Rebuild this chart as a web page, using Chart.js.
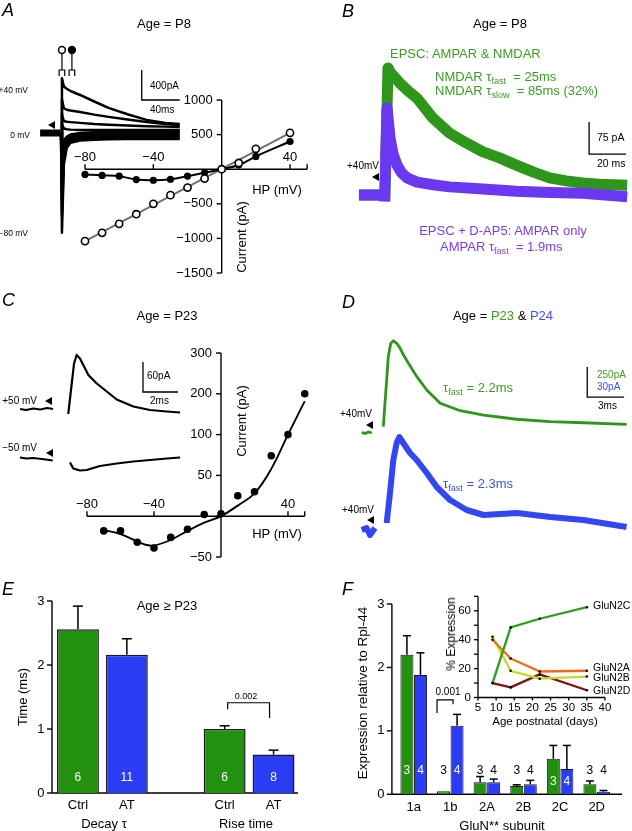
<!DOCTYPE html>
<html>
<head>
<meta charset="utf-8">
<title>AMPAR / NMDAR currents</title>
<style>
    body { margin: 0; background: #fff; }
    #fig { position: relative; width: 632px; height: 831px; overflow: hidden;
           font-family: "Liberation Sans", Arial, Helvetica, sans-serif; }
    canvas.layer { position: absolute; left: 0; top: 0; }
    .t { position: absolute; white-space: nowrap; line-height: 1; font-size: 13px; color: #000; }
    .c { transform: translate(-50%, -50%); }
    .l { transform: translate(0, -50%); }
    .r { transform: translate(-100%, -50%); }
    .v { transform: translate(-50%, -50%) rotate(-90deg); }
    .p { font-style: italic; font-size: 18px; }
    .g { color: #3c9c24; }
    .b { color: #3d50ea; }
    .u { color: #7c3fe3; }
    sub { font-size: 0.7em; vertical-align: -0.35em; line-height: 0; }
    .tri { position: absolute; width: 0; height: 0; border-top: 4px solid transparent;
           border-bottom: 4px solid transparent; border-right: 7px solid #000; }
</style>
</head>
<body>
<div id="fig">
    <canvas id="cATr" class="layer" width="632" height="831"></canvas>
    <canvas id="cAiv" class="layer" width="632" height="831"></canvas>
    <canvas id="cB" class="layer" width="632" height="831"></canvas>
    <canvas id="cCtr" class="layer" width="632" height="831"></canvas>
    <canvas id="cCiv" class="layer" width="632" height="831"></canvas>
    <canvas id="cD" class="layer" width="632" height="831"></canvas>
    <canvas id="cE" class="layer" width="632" height="831"></canvas>
    <canvas id="cF" class="layer" width="632" height="831"></canvas>
    <canvas id="cFin" class="layer" width="632" height="831"></canvas>

    <!-- A -->
    <div class="t l p" style="left:2px;top:10px">A</div>
    <div class="t c" style="left:164px;top:23px">Age = P8</div>
    <div class="t r" style="left:28px;top:90px;font-size:8.5px">+40 mV</div>
    <div class="t r" style="left:30px;top:135px;font-size:8.5px">0 mV</div>
    <div class="t r" style="left:28px;top:233px;font-size:8.5px">−80 mV</div>
    <div class="tri" style="left:48px;top:121px"></div>
    <div class="t l" style="left:150px;top:86px;font-size:10px">400pA</div>
    <div class="t l" style="left:150px;top:110px;font-size:10px">40ms</div>
    <div class="t c" style="left:277px;top:189px">HP (mV)</div>
    <div class="t v" style="left:241px;top:237px">Current (pA)</div>

    <!-- B -->
    <div class="t l p" style="left:342px;top:11px">B</div>
    <div class="t c" style="left:500px;top:23px">Age = P8</div>
    <div class="t l g" style="left:390px;top:53px">EPSC: AMPAR &amp; NMDAR</div>
    <div class="t l g" style="left:435px;top:76px">NMDAR τ<sub>fast</sub>&nbsp; = 25ms</div>
    <div class="t l g" style="left:435px;top:90px">NMDAR τ<sub>slow</sub>&nbsp; = 85ms (32%)</div>
    <div class="t l" style="left:597px;top:137px;font-size:10.5px">75 pA</div>
    <div class="t l" style="left:597px;top:163px;font-size:10.5px">20 ms</div>
    <div class="t l" style="left:347px;top:166px;font-size:10px">+40mV</div>
    <div class="tri" style="left:372px;top:173px"></div>
    <div class="t c u" style="left:503px;top:230px">EPSC + D-AP5: AMPAR only</div>
    <div class="t l u" style="left:440px;top:246px">AMPAR τ<sub>fast</sub>&nbsp; = 1.9ms</div>

    <!-- C -->
    <div class="t l p" style="left:2px;top:300px">C</div>
    <div class="t c" style="left:167px;top:315px">Age = P23</div>
    <div class="t r" style="left:37px;top:401px;font-size:10px">+50 mV</div>
    <div class="t r" style="left:37px;top:448px;font-size:10px">−50 mV</div>
    <div class="tri" style="left:45px;top:397px"></div>
    <div class="tri" style="left:46px;top:449px"></div>
    <div class="t l" style="left:147px;top:376px;font-size:10px">60pA</div>
    <div class="t l" style="left:150px;top:401px;font-size:10px">2ms</div>
    <div class="t c" style="left:277px;top:533px">HP (mV)</div>
    <div class="t v" style="left:241px;top:421px">Current (pA)</div>

    <!-- D -->
    <div class="t l p" style="left:342px;top:302px">D</div>
    <div class="t c" style="left:503px;top:315px">Age = <span class="g">P23</span> &amp; <span class="b">P24</span></div>
    <div class="t l" style="left:340px;top:414px;font-size:10px">+40mV</div>
    <div class="tri" style="left:366px;top:421px"></div>
    <div class="t l" style="left:342px;top:510px;font-size:10px">+40mV</div>
    <div class="tri" style="left:367px;top:516px"></div>
    <div class="t l g" style="left:443px;top:387px">τ<sub>fast</sub> = 2.2ms</div>
    <div class="t l b" style="left:443px;top:483px">τ<sub>fast</sub> = 2.3ms</div>
    <div class="t l g" style="left:597px;top:375px;font-size:10px">250pA</div>
    <div class="t l b" style="left:597px;top:387px;font-size:10px">30pA</div>
    <div class="t l" style="left:598px;top:406px;font-size:10px">3ms</div>

    <!-- E -->
    <div class="t l p" style="left:2px;top:589px">E</div>
    <div class="t c" style="left:167px;top:605px">Age ≥ P23</div>
    <div class="t v" style="left:22px;top:697px">Time (ms)</div>
    <div class="t c" style="left:246px;top:696px;font-size:9px">0.002</div>
    <div class="t c" style="left:104px;top:823px">Decay τ</div>
    <div class="t c" style="left:246px;top:823px">Rise time</div>

    <!-- F -->
    <div class="t l p" style="left:342px;top:589px">F</div>
    <div class="t v" style="left:363px;top:693px;font-size:13.5px">Expression relative to Rpl-44</div>
    <div class="t c" style="left:502px;top:825px">GluN** subunit</div>
    <div class="t c" style="left:448px;top:692px;font-size:10px">0.001</div>
    <div class="t v" style="left:451px;top:634px;font-size:12px">% Expression</div>
    <div class="t c" style="left:545px;top:722px;font-size:11.5px">Age postnatal (days)</div>
    <div class="t l" style="left:593px;top:605px;font-size:10.5px">GluN2C</div>
    <div class="t l" style="left:593px;top:667px;font-size:10.5px">GluN2A</div>
    <div class="t l" style="left:593px;top:677px;font-size:10.5px">GluN2B</div>
    <div class="t l" style="left:593px;top:690px;font-size:10.5px">GluN2D</div>
</div>

<script src="https://cdn.jsdelivr.net/npm/chart.js"></script>
<script>
    // ---------- A: I-V relation at P8 (HP in mV, current in pA) ----------
    const hpA = [-80, -70, -60, -50, -40, -30, -20, -10, 0, 10, 20, 40];
    const iFilledA = [-75, -90, -100, -150, -160, -145, -100, -50, 0, 60, 185, 400];
    const iOpenA = [-1040, -920, -790, -650, -500, -375, -265, -135, 0, 90, 295, 525];
    const hpFitOpenA = [-80, 40];
    const iFitOpenA = [-1040, 525];
    const xTicksA = [-80, -40, 0, 40, 50];
    const xLabelsA = [-80, -40, 40];
    const yTicksA = [-1500, -1000, -500, 0, 500, 1000];
    const yLabelsA = [-1500, -1000, -500, 500, 1000];

    // A: current traces (ms, pA)
    const tA = [0, 1, 3, 6, 10, 20, 35, 50, 70, 90, 110, 125];
    const trA1 = [0, 730, 620, 590, 560, 507, 420, 335, 250, 175, 135, 120];
    const trA2 = [0, 450, 330, 310, 300, 280, 245, 215, 180, 147, 120, 107];
    const trA3 = [0, 250, 160, 150, 145, 135, 120, 110, 100, 90, 85, 80];
    const trA4 = [0, 120, 60, 50, 45, 40, 40, 40, 40, 40, 40, 40];
    const trA5 = [0, -1330, -420, -200, -130, -100, -90, -85, -80, -80, -80, -80];
    const trA6 = [0, -1100, -350, -180, -110, -80, -70, -65, -60, -60, -60, -60];
    const trA7 = [0, -880, -300, -150, -90, -60, -50, -45, -40, -40, -40, -40];
    const trA8 = [0, -650, -240, -120, -70, -40, -30, -25, -20, -20, -20, -20];
    const trA9 = [0, -420, -180, -90, -50, -20, -10, -5, 0, 0, 0, 0];
    const trA10 = [0, -220, -100, -50, -20, 0, 10, 15, 20, 20, 20, 20];
    const tBaseA = [-22, -1];
    const iBaseA = [0, 0];
    const stimOpenT = 1;
    const stimFilledT = 11.5;

    // ---------- B: EPSC at +40 mV, P8 (ms, pA) ----------
    const greenBt = [-13, -2, -1, 1.0, 2.7, 3.8, 9.2, 13, 18.4, 27, 36, 45, 54, 63, 72, 81, 90, 99, 108, 117, 132];
    const greenBi = [0, 0, null, -15, 298, 288, 262, 246, 227, 180, 145, 122, 101, 87, 70, 54, 40, 33, 28, 25, 23];
    const violetBt = [-13, -2, -1, 0.8, 2.2, 3.8, 5.5, 7.6, 10, 13, 18.4, 27, 36, 54, 72, 90, 108, 132];
    const violetBi = [0, 0, null, -15, 204, 134, 95, 70, 52, 40, 30, 24, 19, 14, 9, 6, 4, -4];

    // ---------- C: I-V at P23 ----------
    const hpC = [-70, -60, -50, -40, -30, -20, -10, 0, 10, 20, 30, 40, 50];
    const iC = [-18, -18, -32, -39, -26, -16, 2, 3, 25, 30, 74, 100, 200];
    const hpFitC = [-70, -60, -50, -45, -40, -30, -20, -10, 0, 10, 20, 30, 40, 50];
    const iFitC = [-17, -22, -31, -35, -36, -29, -18, -8, 0, 13, 28, 58, 100, 182];
    const xTicksC = [-80, -40, 0, 40, 50];
    const xLabelsC = [-80, -40, 40];
    const yTicksC = [-50, 0, 50, 100, 200, 300];
    const yLabelsC = [-50, 50, 100, 200, 300];

    // C: traces at +50 and -50 mV (ms, pA)
    const pos50t = [-2.65, -2.3, -1.9, -1.5, -1.1, -0.77, -0.5, 0.1, 0.3, 0.43, 0.58, 0.77, 0.96, 1.25, 1.73, 2.3, 2.87, 3.82, 4.77, 5.73, 6.49];
    const pos50i = [4, 2, 5, 3, 6, 4, null, -6, 55, 95, 112, 105, 92, 72, 55, 39, 23, 9, 2, -1, -3];
    const neg50t = [-2.66, -2.3, -1.9, -1.4, -0.79, -0.5, 0.2, 0.39, 0.77, 1.15, 1.91, 2.87, 3.82, 4.77, 5.73, 6.49];
    const neg50i = [1, -1, 0, -2, -5, null, -9, -21, -25, -24, -16, -11, -7, -4, -1, 1];

    // ---------- D: EPSCs at +40 mV, P23 (green) & P24 (blue) ----------
    const greenDt = [-1.73, -1.45, -1.2, -0.91, -0.6, 0.03, 0.16, 0.3, 0.43, 0.63, 0.85, 1.12, 1.4, 1.67, 2.07, 2.75, 3.56, 4.65, 6.28, 8.17, 10.87, 13.57, 16.3, 19.8];
    const greenDi = [-24, -30, -18, -26, null, 26, 220, 415, 609, 721, 742, 721, 679, 623, 554, 443, 332, 221, 159, 123, 88, 68, 59, 46];
    const blueDt = [-1.73, -1.33, -1.06, -0.65, -0.4, 0.3, 0.57, 0.84, 1.11, 1.33, 1.65, 2.2, 2.74, 3.56, 4.37, 5.45, 6.8, 8.17, 10.9, 13.6, 16.3, 19.8];
    const blueDi = [-2, 0, -7, 0, null, 5, 35, 68, 85, 91, 85, 75, 68, 55, 41, 28, 18, 13, 15, 11, 8, 1];

    // ---------- E: decay tau and rise time (ms) ----------
    const catsE = ['Ctrl', 'AT', '', 'Ctrl', 'AT'];
    const valuesE = [2.56, 2.16, null, 1.0, 0.6];
    const errE = [0.36, 0.25, null, 0.05, 0.07];
    const nE = [6, 11, null, 6, 8];
    const yTicksE = [0, 1, 2, 3];
    const sigE = { from: 3, to: 4, top: 1.41, left: 1.31, right: 1.17 };

    // ---------- F: GluN subunit expression ----------
    const catsF = ['1a', '1b', '2A', '2B', '2C', '2D'];
    const ctrlF = [2.20, 0.05, 0.19, 0.13, 0.56, 0.16];
    const ctrlErrF = [0.30, 0, 0.09, 0.02, 0.21, 0.05];
    const atF = [1.88, 1.08, 0.19, 0.16, 0.40, 0.04];
    const atErrF = [0.35, 0.18, 0.05, 0.06, 0.37, 0.02];
    const nCtrlF = [3, 3, 3, 3, 3, 3];
    const nAtF = [4, 4, 4, 4, 4, 4];
    const yTicksF = [0, 1, 2, 3];
    const sigF = { index: 1, top: 1.49, left: 1.28, right: 1.42 };

    // F inset: % expression vs age
    const daysInset = [9, 14, 22, 35];
    const glun2C = [10, 48.5, 54.5, 62.5];
    const glun2A = [40, 27, 18, 18.5];
    const glun2B = [42, 18.5, 13, 14.5];
    const glun2D = [10, 7, 16, 5];
    const xTicksInset = [5, 10, 15, 20, 25, 30, 35, 40];
    const yTicksInset = [0, 10, 20, 30, 40, 50, 60, 70];
    const yLabelsInset = [0, 20, 40, 60];

    // ---------- colours ----------
    const INK = '#000';
    const GREEN = '#2f961c';
    const VIOLET = '#6a38f0';
    const BLUE = '#3347f0';
    const BAR_GREEN = '#24900f';
    const BAR_BLUE = '#2a3cf4';
    const FONT = '"Liberation Sans", Arial, Helvetica, sans-serif';

    const W = 632, H = 831;

    // ---------- helpers ----------
    const xy = (xs, ys) => xs.map((x, i) => ({ x: x, y: ys[i] }));
    const minus = v => (v < 0 ? '\u2212' + Math.abs(v) : String(v));

    function seg(ctx, x1, y1, x2, y2, w, c) {
        ctx.save();
        ctx.strokeStyle = c || INK;
        ctx.lineWidth = w || 1.3;
        ctx.beginPath();
        ctx.moveTo(x1, y1);
        ctx.lineTo(x2, y2);
        ctx.stroke();
        ctx.restore();
    }

    function txt(ctx, s, x, y, size, align, color) {
        ctx.save();
        ctx.font = size + 'px ' + FONT;
        ctx.fillStyle = color || INK;
        ctx.textAlign = align;
        ctx.textBaseline = 'middle';
        ctx.fillText(s, x, y);
        ctx.restore();
    }

    // chart area given in page pixels: left, top, right, bottom
    function pad(l, t, r, b) {
        return { left: l, top: t, right: W - r, bottom: H - b };
    }

    function baseOpts(padding, scales) {
        return {
            responsive: false,
            animation: false,
            events: [],
            layout: { autoPadding: false, padding: padding },
            plugins: { legend: { display: false }, tooltip: { enabled: false }, title: { display: false } },
            scales: scales
        };
    }

    const lin = (min, max) => ({ type: 'linear', display: false, min: min, max: max });

    function trace(xs, ys, color, width, extra) {
        return Object.assign({
            data: xy(xs, ys), showLine: true, borderColor: color, borderWidth: width,
            pointRadius: 0, tension: 0, spanGaps: false, clip: false,
            borderJoinStyle: 'round'
        }, extra);
    }

    // axes crossing at (0,0), ticks up on x, left on y, x labels above
    function ivAxes(cfg) {
        return {
            id: 'ivAxes',
            beforeDatasetsDraw(chart) {
                const ctx = chart.ctx, sx = chart.scales.x, sy = chart.scales.y;
                const x0 = sx.getPixelForValue(0), y0 = sy.getPixelForValue(0);
                seg(ctx, sx.getPixelForValue(cfg.xFrom), y0, sx.getPixelForValue(cfg.xTo), y0, 1.4);
                cfg.xTicks.forEach(v => {
                    const p = sx.getPixelForValue(v);
                    seg(ctx, p, y0, p, y0 - 5, 1.4);
                });
                cfg.xLabels.forEach(v => txt(ctx, minus(v), sx.getPixelForValue(v), y0 - 12, 13, 'center'));
                seg(ctx, x0, sy.getPixelForValue(cfg.yFrom), x0, sy.getPixelForValue(cfg.yTo), 1.4);
                cfg.yTicks.forEach(v => {
                    const p = sy.getPixelForValue(v);
                    seg(ctx, x0 - 5, p, x0, p, 1.4);
                });
                cfg.yLabels.forEach(v => txt(ctx, minus(v), x0 - 9, sy.getPixelForValue(v), 13, 'right'));
            }
        };
    }

    function scaleBar(sb) {
        return {
            id: 'scaleBar',
            afterDatasetsDraw(chart) {
                const ctx = chart.ctx, sx = chart.scales.x, sy = chart.scales[sb.yId || 'y'];
                const x1 = sx.getPixelForValue(sb.t), x2 = sx.getPixelForValue(sb.t + sb.dt);
                const y1 = sy.getPixelForValue(sb.i), y2 = sy.getPixelForValue(sb.i + sb.di);
                ctx.save();
                ctx.beginPath();
                ctx.moveTo(x1, y2);
                ctx.lineTo(x1, y1);
                ctx.lineTo(x2, y1);
                ctx.lineWidth = 1.3;
                ctx.strokeStyle = INK;
                ctx.stroke();
                ctx.restore();
            }
        };
    }

    // scale with equally spaced, uneven steps (C has 0,50,100,200,300 evenly spaced)
    const LinearBase = Chart.LinearScale || Chart.registry.getScale('linear');
    class BrokenScale extends LinearBase {
        getPixelForValue(value, index) {
            if (value === null || value === undefined || isNaN(value)) return NaN;
            const b = this.options.breaks;
            let k = 0;
            while (k < b.length - 2 && value > b[k + 1]) k++;
            const pos = k + (value - b[k]) / (b[k + 1] - b[k]);
            return super.getPixelForValue(pos, index);
        }
    }
    BrokenScale.id = 'broken';
    BrokenScale.defaults = LinearBase.defaults;
    Chart.register(BrokenScale);

    // ---------- A traces ----------
    const stimMarks = {
        id: 'stimMarks',
        afterDatasetsDraw(chart) {
            const ctx = chart.ctx, sx = chart.scales.x, top = chart.chartArea.top;
            [[stimOpenT, false], [stimFilledT, true]].forEach(([t, filled]) => {
                const x = sx.getPixelForValue(t);
                ctx.save();
                ctx.beginPath();
                ctx.arc(x, top + 7, 3.4, 0, 2 * Math.PI);
                ctx.fillStyle = filled ? INK : '#fff';
                ctx.fill();
                ctx.lineWidth = 1.5;
                ctx.strokeStyle = INK;
                ctx.stroke();
                ctx.beginPath();
                ctx.moveTo(x, top + 11);
                ctx.lineTo(x, top + 27);
                ctx.moveTo(x - 2.8, top + 33);
                ctx.lineTo(x - 2.8, top + 27);
                ctx.lineTo(x + 2.8, top + 27);
                ctx.lineTo(x + 2.8, top + 33);
                ctx.lineWidth = 1.2;
                ctx.stroke();
                ctx.restore();
            });
        }
    };

    new Chart(document.getElementById('cATr'), {
        type: 'scatter',
        data: {
            datasets: [trace(tBaseA, iBaseA, INK, 7, { borderJoinStyle: 'miter' })].concat(
                [trA1, trA2, trA3, trA4, trA5, trA6, trA7, trA8, trA9, trA10].map(tr => trace(tA, tr, INK, 2.5))
            )
        },
        options: baseOpts(pad(37.25, 43, 184.5, 238), { x: lin(-25, 130), y: lin(-1400, 1200) }),
        plugins: [scaleBar({ t: 85, i: 440, dt: 40, di: 400 }), stimMarks]
    });

    // ---------- A I-V ----------
    new Chart(document.getElementById('cAiv'), {
        type: 'scatter',
        data: {
            datasets: [
                { data: xy(hpA, iOpenA), showLine: false, pointRadius: 3.6, pointBackgroundColor: '#fff',
                  pointBorderColor: INK, pointBorderWidth: 1.6, clip: false, order: 0 },
                trace(hpA, iFilledA, INK, 2, { tension: 0.4, pointRadius: 3.6, pointBackgroundColor: INK,
                  pointBorderWidth: 0, order: 1 }),
                trace(hpFitOpenA, iFitOpenA, '#6e6e6e', 1.8, { order: 2 })
            ]
        },
        options: baseOpts(pad(85, 100, 307.1, 273), { x: lin(-80, 50), y: lin(-1500, 1000) }),
        plugins: [ivAxes({ xFrom: -80, xTo: 50, xTicks: xTicksA, xLabels: xLabelsA,
                           yFrom: -1500, yTo: 1000, yTicks: yTicksA, yLabels: yLabelsA })]
    });

    // ---------- B ----------
    new Chart(document.getElementById('cB'), {
        type: 'scatter',
        data: {
            datasets: [
                trace(violetBt, violetBi, VIOLET, 11, { order: 0 }),
                trace(greenBt, greenBi, GREEN, 11, { order: 1 })
            ]
        },
        options: baseOpts(pad(355.25, 58.5, 630.9, 216.3), { x: lin(-15, 134), y: lin(-50, 320) }),
        plugins: [scaleBar({ t: 111.4, i: 96, dt: 20, di: 75 })]
    });

    // ---------- C traces ----------
    new Chart(document.getElementById('cCtr'), {
        type: 'scatter',
        data: {
            datasets: [
                trace(pos50t, pos50i, INK, 2.2),
                trace(neg50t, neg50i, INK, 2.2, { yAxisID: 'y2' })
            ]
        },
        options: baseOpts(pad(14, 341, 189, 481), { x: lin(-3, 7), y: lin(-140, 140), y2: lin(-46, 234) }),
        plugins: [scaleBar({ t: 4.37, i: 38, dt: 2, di: 60 })]
    });

    // ---------- C I-V ----------
    new Chart(document.getElementById('cCiv'), {
        type: 'scatter',
        data: {
            datasets: [
                { data: xy(hpC, iC), showLine: false, pointRadius: 3.8, pointBackgroundColor: INK,
                  pointBorderWidth: 0, clip: false, order: 0 },
                trace(hpFitC, iFitC, INK, 1.9, { tension: 0.4, order: 1 })
            ]
        },
        options: baseOpts(pad(87, 353, 304.75, 557), {
            x: lin(-80, 50),
            y: { type: 'broken', display: false, min: 0, max: yTicksC.length - 1, breaks: yTicksC }
        }),
        plugins: [ivAxes({ xFrom: -80, xTo: 50, xTicks: xTicksC, xLabels: xLabelsC,
                           yFrom: -50, yTo: 300, yTicks: yTicksC, yLabels: yLabelsC })]
    });

    // ---------- D ----------
    new Chart(document.getElementById('cD'), {
        type: 'scatter',
        data: {
            datasets: [
                trace(greenDt, greenDi, GREEN, 2.8),
                trace(blueDt, blueDi, BLUE, 6, { yAxisID: 'yB' })
            ]
        },
        options: baseOpts(pad(355.3, 330, 631.5, 545), { x: lin(-2.25, 20.2), y: lin(-960, 832), yB: lin(-17, 198) }),
        plugins: [scaleBar({ t: 16.6, i: 273, dt: 3, di: 250 })]
    });

    // ---------- E ----------
    const eDeco = {
        id: 'eDeco',
        beforeDatasetsDraw(chart) {
            const ctx = chart.ctx, a = chart.chartArea, sy = chart.scales.y, sx = chart.scales.x;
            const y0 = sy.getPixelForValue(0), xa = a.left - 1.5;
            seg(ctx, xa, y0, a.right, y0, 1.4);
            seg(ctx, xa, y0, xa, sy.getPixelForValue(3), 1.4);
            yTicksE.forEach(v => {
                const p = sy.getPixelForValue(v);
                seg(ctx, xa - 5, p, xa, p, 1.4);
                txt(ctx, String(v), xa - 7.5, p, 13, 'right');
            });
            catsE.forEach((c, i) => { if (c) txt(ctx, c, sx.getPixelForValue(i), y0 + 12, 13, 'center'); });
        },
        afterDatasetsDraw(chart) {
            const ctx = chart.ctx, sy = chart.scales.y, meta = chart.getDatasetMeta(0);
            const y0 = sy.getPixelForValue(0);
            meta.data.forEach((bar, i) => {
                if (valuesE[i] === null) return;
                const yt = sy.getPixelForValue(valuesE[i] + errE[i]);
                seg(ctx, bar.x, bar.y, bar.x, yt, 1.5);
                seg(ctx, bar.x - 5, yt, bar.x + 5, yt, 1.5);
                txt(ctx, String(nE[i]), bar.x, y0 - 15, 12, 'center', '#fff');
            });
            const b1 = meta.data[sigE.from], b2 = meta.data[sigE.to];
            const xl = b1.x + 3, xr = b2.x - 4, yt = sy.getPixelForValue(sigE.top);
            ctx.save();
            ctx.beginPath();
            ctx.moveTo(xl, sy.getPixelForValue(sigE.left));
            ctx.lineTo(xl, yt);
            ctx.lineTo(xr, yt);
            ctx.lineTo(xr, sy.getPixelForValue(sigE.right));
            ctx.lineWidth = 1.2;
            ctx.strokeStyle = INK;
            ctx.stroke();
            ctx.restore();
        }
    };

    new Chart(document.getElementById('cE'), {
        type: 'bar',
        data: {
            labels: catsE,
            datasets: [{
                data: valuesE,
                backgroundColor: catsE.map(c => (c === 'AT' ? BAR_BLUE : BAR_GREEN)),
                borderColor: '#1a1a1a', borderWidth: 1.5,
                barPercentage: 0.857, categoryPercentage: 1
            }]
        },
        options: baseOpts(pad(53.5, 601, 298, 793), {
            x: { type: 'category', display: false, offset: true },
            y: lin(0, 3)
        }),
        plugins: [eDeco]
    });

    // ---------- F ----------
    const fDeco = {
        id: 'fDeco',
        beforeDatasetsDraw(chart) {
            const ctx = chart.ctx, a = chart.chartArea, sy = chart.scales.y, sx = chart.scales.x;
            const y0 = sy.getPixelForValue(0), xa = a.left - 3.5;
            seg(ctx, xa, y0, a.right + 7, y0, 1.4);
            seg(ctx, xa, y0, xa, sy.getPixelForValue(3), 1.4);
            yTicksF.forEach(v => {
                const p = sy.getPixelForValue(v);
                seg(ctx, xa - 5, p, xa, p, 1.4);
                txt(ctx, String(v), xa - 7.5, p, 13, 'right');
            });
            catsF.forEach((c, i) => txt(ctx, c, sx.getPixelForValue(i), y0 + 13, 13, 'center'));
        },
        afterDatasetsDraw(chart) {
            const ctx = chart.ctx, sy = chart.scales.y;
            const y0 = sy.getPixelForValue(0);
            [[ctrlF, ctrlErrF, nCtrlF], [atF, atErrF, nAtF]].forEach(([vals, errs, ns], d) => {
                chart.getDatasetMeta(d).data.forEach((bar, i) => {
                    if (errs[i] > 0) {
                        const yt = sy.getPixelForValue(vals[i] + errs[i]);
                        seg(ctx, bar.x, bar.y, bar.x, yt, 1.5);
                        seg(ctx, bar.x - 4, yt, bar.x + 4, yt, 1.5);
                    }
                    const h = y0 - bar.y;
                    let ly = y0 - 24, col = INK;
                    if (h > 45) col = '#fff';
                    else if (h > 20) { ly = y0 - 13; col = '#fff'; }
                    txt(ctx, String(ns[i]), bar.x, ly, 12, 'center', col);
                });
            });
            const g = chart.getDatasetMeta(0).data[sigF.index], b = chart.getDatasetMeta(1).data[sigF.index];
            const xl = g.x - 6.5, xr = b.x - 4, yt = sy.getPixelForValue(sigF.top);
            ctx.save();
            ctx.beginPath();
            ctx.moveTo(xl, sy.getPixelForValue(sigF.left));
            ctx.lineTo(xl, yt);
            ctx.lineTo(xr, yt);
            ctx.lineTo(xr, sy.getPixelForValue(sigF.right));
            ctx.lineWidth = 1.2;
            ctx.strokeStyle = INK;
            ctx.stroke();
            ctx.restore();
        }
    };

    new Chart(document.getElementById('cF'), {
        type: 'bar',
        data: {
            labels: catsF,
            datasets: [
                { data: ctrlF, backgroundColor: BAR_GREEN, borderColor: '#1a1a1a', borderWidth: 1,
                  barPercentage: 0.96, categoryPercentage: 0.74 },
                { data: atF, backgroundColor: BAR_BLUE, borderColor: '#1a1a1a', borderWidth: 1,
                  barPercentage: 0.96, categoryPercentage: 0.74 }
            ]
        },
        options: baseOpts(pad(395.4, 604, 615, 794.3), {
            x: { type: 'category', display: false, offset: true },
            y: lin(0, 3)
        }),
        plugins: [fDeco]
    });

    // ---------- F inset ----------
    const insetDeco = {
        id: 'insetDeco',
        beforeDatasetsDraw(chart) {
            const ctx = chart.ctx, sx = chart.scales.x, sy = chart.scales.y;
            const xa = sx.getPixelForValue(5), y0 = sy.getPixelForValue(0);
            seg(ctx, xa, y0, sx.getPixelForValue(40), y0, 1.3);
            seg(ctx, xa, y0, xa, sy.getPixelForValue(70), 1.3);
            yTicksInset.forEach(v => {
                const p = sy.getPixelForValue(v);
                seg(ctx, xa - 4, p, xa, p, 1.3);
            });
            yLabelsInset.forEach(v => txt(ctx, String(v), xa - 7, sy.getPixelForValue(v), 11.5, 'right'));
            xTicksInset.forEach(v => {
                const p = sx.getPixelForValue(v);
                seg(ctx, p, y0, p, y0 + 3, 1.3);
                txt(ctx, String(v), p, y0 + 10, 11.5, 'center');
            });
        }
    };

    const dots = { pointRadius: 1.3, pointBackgroundColor: INK, pointBorderWidth: 0 };
    new Chart(document.getElementById('cFin'), {
        type: 'scatter',
        data: {
            datasets: [
                trace(daysInset, glun2C, '#2f9d1f', 2.3, dots),
                trace(daysInset, glun2A, '#f06a1c', 2.3, dots),
                trace(daysInset, glun2B, '#c6d82c', 2.3, dots),
                trace(daysInset, glun2D, '#7e1414', 2.3, dots)
            ]
        },
        options: baseOpts(pad(478, 596.35, 605, 697.5), { x: lin(5, 40), y: lin(0, 70) }),
        plugins: [insetDeco]
    });
</script>
</body>
</html>
